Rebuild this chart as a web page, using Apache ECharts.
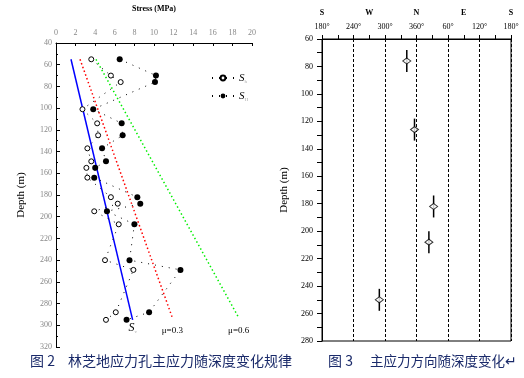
<!DOCTYPE html>
<html>
<head>
<meta charset="utf-8">
<script src="https://cdn.jsdelivr.net/npm/echarts@6/dist/echarts.min.js"></script>
<style>
  html, body { margin: 0; padding: 0; background: #fff; }
  #main { width: 524px; height: 378px; }
</style>
</head>
<body>
<div id="main"></div>
<script>
  // figure 2: stress vs depth
  const depth = [55, 70, 76, 101, 114, 125, 137, 149, 155, 164, 182, 188, 195, 207, 240, 249, 288, 295]
  const shStress = [3.6, 5.6, 6.6, 2.7, 4.2, 4.3, 3.2, 3.6, 3.1, 3.2, 5.6, 6.3, 3.9, 6.4, 5.0, 7.9, 6.1, 5.1]
  const bigHStress = [6.5, 10.2, 10.1, 3.8, 6.7, 6.8, 4.7, 5.1, 4.0, 3.9, 8.3, 8.6, 5.2, 8.0, 7.5, 12.7, 9.5, 7.2]
  const svLine = [[1.53, 55], [7.82, 295]]
  const mu03Line = [[2.45, 55], [11.87, 293]]
  const mu06Line = [[4.08, 55], [18.64, 293]]
  const stressTicks = [0, 20, 2]
  const depthTicks = [40, 320, 20]

  // figure 3: principal stress direction vs depth
  const azimuth = [341.5, 356.2, 392.6, 383.6, 289.2]
  const dirDepth = [76, 126, 182, 208, 250]
  const dirErr = [8, 8, 8, 8, 8]
  const compass = { 180: 'S', 270: 'W', 360: 'N', 450: 'E', 540: 'S' }

  const serif = 'Liberation Serif'
  const pair = (xs, ys) => xs.map((x, i) => [x, ys[i]])
  const lastLabel = (pts, text, dist) => pts.map((p, i) => i < pts.length - 1 ? p : {
    value: p,
    label: {
      show: true, position: 'bottom', distance: dist, formatter: text,
      fontFamily: serif, fontSize: 9, color: '#000',
      rich: {
        sub: { fontSize: 5, color: '#aaa', verticalAlign: 'bottom', padding: [8, 0, 0, 0] },
        it: { fontStyle: 'italic', fontSize: 12, fontFamily: serif, color: '#000' }
      }
    }
  })

  const chart = echarts.init(document.getElementById('main'))
  const option = {
    animation: false,
    textStyle: { fontFamily: serif },
    grid: [
      { left: 56, top: 41, width: 196, height: 306 },
      { left: 322, top: 39, width: 189, height: 302, show: true, borderColor: '#000', borderWidth: 1 }
    ],
    legend: {
      left: 206, top: 67, orient: 'vertical',
      itemWidth: 22, itemHeight: 6, itemGap: 6,
      data: ['Sh', 'SH'],
      formatter: n => '{s|S}{sub|' + n.slice(1) + '}',
      textStyle: {
        rich: {
          s: { fontStyle: 'italic', fontSize: 11, fontFamily: serif, color: '#000', lineHeight: 12 },
          sub: { fontSize: 5, color: '#aaa', verticalAlign: 'bottom', padding: [7, 0, 0, 0], lineHeight: 12 }
        }
      }
    },
    xAxis: [{
      gridIndex: 0, type: 'value', position: 'top',
      min: stressTicks[0], max: stressTicks[1], interval: stressTicks[2],
      name: 'Stress (MPa)', nameLocation: 'middle', nameGap: 30,
      nameTextStyle: { fontSize: 8, fontWeight: 'bold', color: '#000' },
      axisLine: { lineStyle: { color: '#000', width: 1 } },
      axisTick: { inside: true, length: 3, lineStyle: { color: '#000' } },
      axisLabel: { fontSize: 8, color: '#888', margin: 6 },
      splitLine: { show: false }
    }, {
      gridIndex: 1, type: 'value', position: 'top',
      min: 180, max: 540, interval: 60,
      axisLine: { lineStyle: { color: '#000' } },
      axisTick: { length: 4, lineStyle: { color: '#000' } },
      minorTick: { show: true, splitNumber: 2, length: 4, lineStyle: { color: '#000' } },
      axisLabel: { fontSize: 8, color: '#000', margin: 8, formatter: v => (v > 360 ? v - 360 : v) + '°' },
      splitLine: { show: true, lineStyle: { color: '#000', type: [3, 2], width: 1 } }
    }, {
      gridIndex: 1, type: 'value', position: 'top', offset: 14,
      min: 180, max: 540, interval: 90,
      axisLine: { show: false }, axisTick: { show: false }, splitLine: { show: false },
      axisLabel: { fontSize: 8, fontWeight: 'bold', color: '#000', margin: 8, formatter: v => compass[v] || '' }
    }],
    yAxis: [{
      gridIndex: 0, type: 'value', inverse: true,
      min: depthTicks[0], max: depthTicks[1], interval: depthTicks[2],
      name: 'Depth (m)', nameLocation: 'middle', nameGap: 29,
      nameTextStyle: { fontSize: 11, color: '#000' },
      axisLine: { show: true, lineStyle: { color: '#000' } },
      axisTick: { inside: true, length: 4, lineStyle: { color: '#000' } },
      minorTick: { show: true, splitNumber: 2, length: 2, lineStyle: { color: '#000' } },
      axisLabel: { fontSize: 8, color: '#888', margin: 4 },
      splitLine: { show: false }
    }, {
      gridIndex: 1, type: 'value', inverse: true,
      min: 60, max: 280, interval: 20,
      name: 'Depth (m)', nameLocation: 'middle', nameGap: 32,
      nameTextStyle: { fontSize: 11, color: '#000' },
      axisLine: { show: true, lineStyle: { color: '#000' } },
      axisTick: { length: 5, lineStyle: { color: '#000' } },
      minorTick: { show: true, splitNumber: 2, length: 5, lineStyle: { color: '#000' } },
      axisLabel: { fontSize: 8, color: '#000', margin: 9 },
      splitLine: { show: false }
    }],
    series: [{
      name: 'Sh', type: 'line', xAxisIndex: 0, yAxisIndex: 0,
      data: pair(shStress, depth),
      symbol: 'circle', symbolSize: 5, z: 4,
      itemStyle: { color: '#fff', borderColor: '#000', borderWidth: 1 },
      lineStyle: { color: '#000', width: 1, type: [1, 6] }
    }, {
      name: 'SH', type: 'line', xAxisIndex: 0, yAxisIndex: 0,
      data: pair(bigHStress, depth),
      symbol: 'circle', symbolSize: 6, z: 4,
      itemStyle: { color: '#000' },
      lineStyle: { color: '#000', width: 1, type: [1, 6] }
    }, {
      name: 'Sv', type: 'line', xAxisIndex: 0, yAxisIndex: 0,
      data: lastLabel(svLine, '{it|S}{sub|v}', 1),
      symbol: 'circle', symbolSize: 0, lineStyle: { color: '#0000ff', width: 1.5 }
    }, {
      name: 'mu03', type: 'line', xAxisIndex: 0, yAxisIndex: 0,
      data: lastLabel(mu03Line, 'μ=0.3', 8),
      symbol: 'circle', symbolSize: 0, lineStyle: { color: '#ff0000', width: 1.5, type: [1.5, 2.5] }
    }, {
      name: 'mu06', type: 'line', xAxisIndex: 0, yAxisIndex: 0,
      data: lastLabel(mu06Line, 'μ=0.6', 8),
      symbol: 'circle', symbolSize: 0, lineStyle: { color: '#00ee00', width: 1.5, type: [1.5, 2.5] }
    }, {
      name: 'err', type: 'custom', xAxisIndex: 1, yAxisIndex: 1,
      data: azimuth.map((a, i) => [a, dirDepth[i], dirErr[i]]),
      encode: { x: 0, y: 1 },
      renderItem (params, api) {
        const x = api.value(0)
        const y = api.value(1)
        const e = api.value(2)
        const p1 = api.coord([x, y - e])
        const p2 = api.coord([x, y + e])
        return { type: 'line', shape: { x1: p1[0], y1: p1[1], x2: p2[0], y2: p2[1] }, style: { stroke: '#000', lineWidth: 1.5 } }
      }
    }, {
      name: 'dir', type: 'scatter', xAxisIndex: 1, yAxisIndex: 1,
      data: pair(azimuth, dirDepth),
      symbol: 'diamond', symbolSize: [8, 6], z: 3,
      itemStyle: { color: '#fff', borderColor: '#000', borderWidth: 1 }
    }],
    graphic: [
      { type: 'text', left: 30, top: 354, style: { text: '图 2', fontSize: 14, fill: '#1a2a6a', fontFamily: 'Noto Sans CJK SC' } },
      { type: 'text', left: 68, top: 354, style: { text: '林芝地应力孔主应力随深度变化规律', fontSize: 14, fill: '#1a2a6a', fontFamily: 'Noto Sans CJK SC' } },
      { type: 'text', left: 328, top: 354, style: { text: '图 3', fontSize: 14, fill: '#1a2a6a', fontFamily: 'Noto Sans CJK SC' } },
      { type: 'text', left: 370, top: 354, style: { text: '主应力方向随深度变化↵', fontSize: 13.5, fill: '#1a2a6a', fontFamily: 'Noto Sans CJK SC' } }
    ]
  }
  chart.setOption(option)
</script>
</body>
</html>
